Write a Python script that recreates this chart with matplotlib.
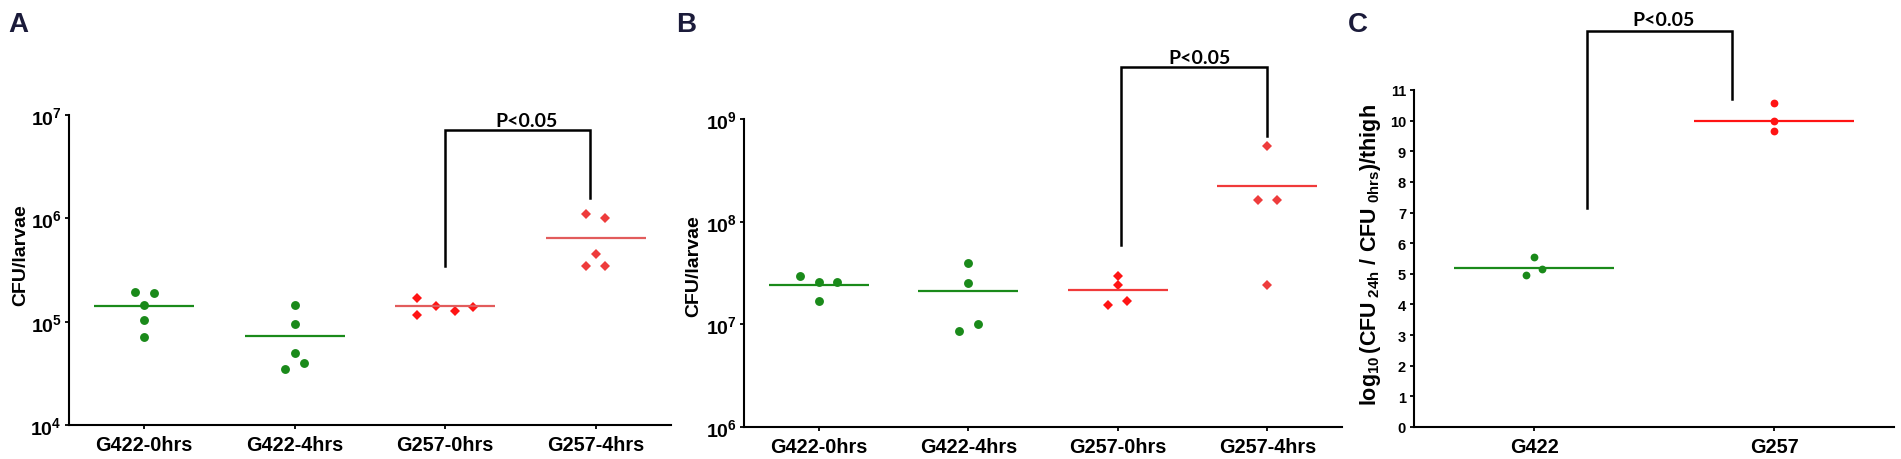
import numpy as np
import matplotlib
matplotlib.use("Agg")
import matplotlib.pyplot as plt
from matplotlib.ticker import FixedLocator, FuncFormatter, NullLocator

# data
cats_ab = ["G422-0hrs", "G422-4hrs", "G257-0hrs", "G257-4hrs"]
cats_c = ["G422", "G257"]

# panel A: CFU/larvae
a_g422_0 = [1.92e5, 1.89e5, 1.45e5, 1.04e5, 7.1e4]
a_g422_4 = [1.45e5, 9.5e4, 4.97e4, 3.97e4, 3.47e4]
a_g257_0 = [1.71e5, 1.17e5, 1.43e5, 1.27e5, 1.39e5]
a_g257_4 = [1.10e6, 1.0e6, 4.48e5, 3.47e5, 3.47e5]
a_means = [1.42e5, 7.25e4, 1.41e5, 6.49e5]

# panel B: CFU/larvae
b_g422_0 = [2.95e7, 2.58e7, 2.58e7, 1.68e7]
b_g422_4 = [4.0e7, 2.52e7, 1.0e7, 8.7e6]
b_g257_0 = [2.97e7, 2.39e7, 1.55e7, 1.68e7]
b_g257_4 = [5.5e8, 1.64e8, 1.64e8, 2.43e7]
b_means = [2.44e7, 2.09e7, 2.14e7, 2.24e8]

# panel C: log10 ratio
c_g422 = [5.55, 4.97, 5.17]
c_g257 = [10.57, 9.98, 9.65]
c_medians = [5.19, 9.98]

# horizontal scatter of the dots (in steps)
a_jit = [[-1, 1, 0, 0, 0], [0, 0, 0, 1, -1], [-3, -3, -1, 1, 3], [-1, 1, 0, -1, 1]]
b_jit = [[-2, 0, 2, 0], [0, 0, 1, -1], [0, 0, -1, 1], [0, -1, 1, 0]]
c_jit = [[0, -1, 1], [0, 0, 0]]

GREEN = "#1a8a1a"
RED = "#ff1414"
RED_LIGHT = "#ee3c3c"
LINE_RED = "#e25c5c"
NAVY = "#1b1b3a"

plt.rcParams["font.family"] = ["Liberation Sans", "DejaVu Sans"]
plt.rcParams["font.weight"] = "bold"
plt.rcParams["mathtext.fontset"] = "custom"
plt.rcParams["mathtext.rm"] = "Liberation Sans:bold"
plt.rcParams["mathtext.bf"] = "Liberation Sans:bold"
plt.rcParams["mathtext.it"] = "Liberation Sans:bold"

W, H = 1901, 460
fig = plt.figure(figsize=(W / 100, H / 100), dpi=100)


def px_axes(left, top, right, bottom):
    return fig.add_axes([left / W, 1 - bottom / H, (right - left) / W, (bottom - top) / H])


def style(ax):
    for s in ["top", "right"]:
        ax.spines[s].set_visible(False)
    for s in ["left", "bottom"]:
        ax.spines[s].set_linewidth(1.5)
    ax.tick_params(axis="both", width=1.3, length=3.2)
    ax.tick_params(axis="y", pad=2, labelsize=14)
    ax.tick_params(axis="x", pad=4, labelsize=14.3)


def bracket(ax, x1, y1, x2, y2, ytop, xt, yt):
    ax.plot([x1, x1, x2, x2], [y1, ytop, ytop, y2], color="black", lw=1.8,
            clip_on=False, solid_joinstyle="miter")
    ax.text(xt, yt, "P<0.05", ha="center", va="baseline", fontsize=14,
            fontweight="bold", family=["Lato", "DejaVu Sans"], clip_on=False)


def dots(ax, i, vals, jit, step, color, marker, ms):
    xs = i + np.array(jit) * step
    ax.plot(xs, vals, ls="none", marker=marker, ms=ms, color=color, mew=0, clip_on=False)


def mean_line(ax, i, v, color, half=1 / 3):
    ax.plot([i - half, i + half], [v, v], color=color, lw=1.6, solid_capstyle="butt")


log_fmt = FuncFormatter(lambda v, p: r"$\mathbf{10^{%d}}$" % int(round(np.log10(v))))

# ---------- panel A ----------
axA = px_axes(69, 116, 671, 426)
style(axA)
axA.set_yscale("log")
axA.set_ylim(1e4, 1e7)
axA.set_xlim(-0.5, 3.5)
step = 0.0625
dots(axA, 0, a_g422_0, a_jit[0], step, GREEN, "o", 6.4)
dots(axA, 1, a_g422_4, a_jit[1], step, GREEN, "o", 6.4)
dots(axA, 2, a_g257_0, a_jit[2], step, RED, "D", 4.6)
dots(axA, 3, a_g257_4, a_jit[3], step, RED_LIGHT, "D", 4.6)
for i, m in enumerate(a_means):
    mean_line(axA, i, m, GREEN if i < 2 else LINE_RED)
axA.yaxis.set_major_locator(FixedLocator([1e4, 1e5, 1e6, 1e7]))
axA.yaxis.set_minor_locator(NullLocator())
axA.yaxis.set_major_formatter(log_fmt)
axA.set_xticks(range(4))
axA.set_xticklabels(cats_ab)
axA.set_ylabel("CFU/larvae", fontsize=14, fontweight="bold", ha="center", va="center")
axA.yaxis.set_label_coords(-0.0806, 0.55)
bracket(axA, 2.0, 3.47e5, 2.963, 1.56e6, 7.2e6, 2.538, 7.9e6)

# ---------- panel B ----------
axB = px_axes(744, 120, 1342, 428)
style(axB)
axB.set_yscale("log")
axB.set_ylim(1e6, 1e9)
axB.set_xlim(-0.5, 3.5)
dots(axB, 0, b_g422_0, b_jit[0], step, GREEN, "o", 6.4)
dots(axB, 1, b_g422_4, b_jit[1], step, GREEN, "o", 6.4)
dots(axB, 2, b_g257_0, b_jit[2], step, RED, "D", 4.6)
dots(axB, 3, b_g257_4, b_jit[3], step, RED_LIGHT, "D", 4.6)
for i, m in enumerate(b_means):
    mean_line(axB, i, m, GREEN if i < 2 else "#f03a3a")
axB.yaxis.set_major_locator(FixedLocator([1e6, 1e7, 1e8, 1e9]))
axB.yaxis.set_minor_locator(NullLocator())
axB.yaxis.set_major_formatter(log_fmt)
axB.set_xticks(range(4))
axB.set_xticklabels(cats_ab)
axB.set_ylabel("CFU/larvae", fontsize=14, fontweight="bold", ha="center", va="center")
axB.yaxis.set_label_coords(-0.0833, 0.524)
bracket(axB, 2.024, 5.98e7, 2.996, 6.89e8, 3.19e9, 2.549, 3.55e9)

# ---------- panel C ----------
axC = px_axes(1414, 91, 1894, 428)
style(axC)
axC.set_ylim(0, 11)
axC.set_xlim(-0.5, 1.5)
dots(axC, 0, c_g422, c_jit[0], 0.035, GREEN, "o", 5.6)
dots(axC, 1, c_g257, c_jit[1], 0.035, RED, "o", 5.6)
mean_line(axC, 0, c_medians[0], GREEN)
mean_line(axC, 1, c_medians[1], RED)
axC.set_yticks(range(0, 12))
axC.tick_params(axis="y", labelsize=10.5, pad=2.5)
axC.set_xticks(range(2))
axC.set_xticklabels(cats_c)
axC.set_ylabel(r"$\mathbf{log_{10}\,(CFU_{\ 24h}\ /\ CFU_{\ 0hrs})/thigh}$",
               fontsize=15.5, ha="center", va="center")
axC.yaxis.set_label_coords(-0.0904, 0.5125)
bracket(axC, 0.222, 7.16, 0.827, 10.72, 12.92, 0.538, 13.12)

# panel letters
for x, letter in [(8, "A"), (676, "B"), (1348, "C")]:
    fig.text(x / W, 1 - 32 / H, letter, fontsize=20, fontweight="bold",
             color=NAVY, ha="left", va="baseline")

fig.savefig("out.png", dpi=100)
